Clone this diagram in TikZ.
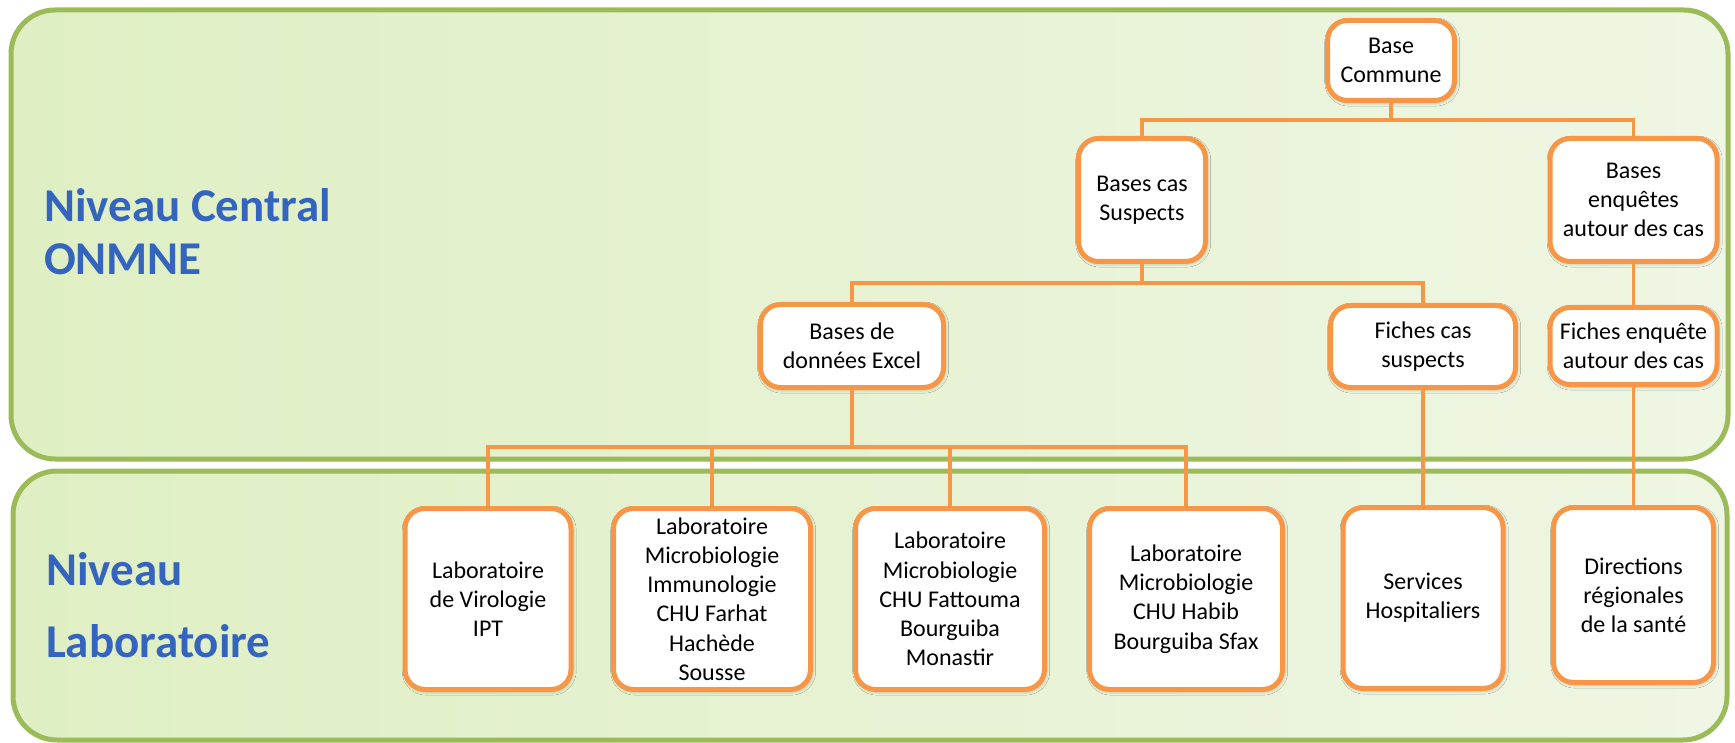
\documentclass[tikz,border=0pt]{standalone}
\usepackage{fontspec}
\setmainfont{Carlito}
\usetikzlibrary{positioning,shadows.blur}
\definecolor{panelline}{RGB}{155,187,89}
\definecolor{panelleft}{RGB}{223,239,195}
\definecolor{panelright}{RGB}{239,246,228}
\definecolor{boxline}{RGB}{247,150,70}
\definecolor{headblue}{RGB}{52,100,190}

\begin{document}
\begin{tikzpicture}[
  x=0.5pt, y=-0.5pt,
  panel/.style={draw=panelline, line width=2.5pt, rounded corners=22pt,
    left color=panelleft, right color=panelright},
  box/.style={draw=boxline, fill=white, line width=2.5pt, rounded corners=10pt,
    align=center, inner sep=2pt, font=\fontsize{12}{14.6}\selectfont,
    blur shadow={shadow xshift=0.6pt, shadow yshift=-0.8pt, shadow blur radius=2pt, shadow opacity=30}},
  boxsize/.style 2 args={minimum width=#1pt, minimum height=#2pt},
  conn/.style={draw=boxline, line width=1.6pt},
  head/.style={headblue, anchor=base west, align=left,
    font=\fontsize{23.5}{26.5}\selectfont\bfseries}
]
  \useasboundingbox (0,0) rectangle (1735,743);

  % the two levels
  \draw[panel] (11,10) rectangle (1728,459);
  \draw[panel] (13,471) rectangle (1727,740);
  \node[head] (central) at (37,275) {Niveau Central\\ONMNE};
  \node[head, font=\fontsize{23.5}{36}\selectfont\bfseries] (labo) at (39,657) {Niveau\\Laboratoire};

  % central level
  \node[box, boxsize={63.5}{40}]   (base)     at (1391,60.5) {Base\\Commune};
  \node[box, boxsize={63.5}{61.5}] (cassusp)  at (1142,200)  {Bases cas\\Suspects};
  \node[box, boxsize={83.5}{61.5}] (enqbase)  at (1633.5,200) {Bases\\enquêtes\\autour des cas};
  \node[box, boxsize={91.5}{41.5}] (excel)    at (852,346)   {Bases de\\données Excel};
  \node[box, boxsize={92.5}{41}]   (fichecas) at (1423,346.5) {Fiches cas\\suspects};
  \node[box, boxsize={83.5}{38.5}] (ficheenq) at (1633.5,346) {Fiches enquête\\autour des cas};

  % laboratory level
  \node[box, boxsize={83}{90.5}]   (labipt)      at (488,599)  {Laboratoire\\de Virologie\\IPT};
  \node[box, boxsize={98.5}{90.5}] (labsousse)   at (712,599)  {Laboratoire\\Microbiologie\\Immunologie\\CHU Farhat\\Hachède\\Sousse};
  \node[box, boxsize={94.5}{90.5}] (labmonastir) at (950,599)  {Laboratoire\\Microbiologie\\CHU Fattouma\\Bourguiba\\Monastir};
  \node[box, boxsize={96.5}{90.5}] (labsfax)     at (1186,599) {Laboratoire\\Microbiologie\\CHU Habib\\Bourguiba Sfax};
  \node[box, boxsize={80}{90.5}]   (services)    at (1423,598) {Services\\Hospitaliers};
  \node[box, boxsize={80}{87.5}]   (directions)  at (1633.5,595) {Directions\\régionales\\de la santé};

  % connectors
  \coordinate (busA) at (1391,120);
  \coordinate (busB) at (1142,283);
  \coordinate (busC) at (852,447);
  \draw[conn] (base.south) -- (busA);
  \draw[conn] (cassusp.north) |- (busA) -| (enqbase.north);
  \draw[conn] (cassusp.south) -- (busB);
  \draw[conn] (excel.north) |- (busB) -| (fichecas.north);
  \draw[conn] (enqbase.south) -- (ficheenq.north);
  \draw[conn] (excel.south) -- (busC);
  \draw[conn] (labipt.north) |- (busC) -| (labsfax.north);
  \foreach \lab in {labsousse,labmonastir}
    \draw[conn] (\lab.north |- busC) -- (\lab.north);
  \draw[conn] (fichecas.south) -- (services.north);
  \draw[conn] (ficheenq.south) -- (directions.north);
\end{tikzpicture}
\end{document}
